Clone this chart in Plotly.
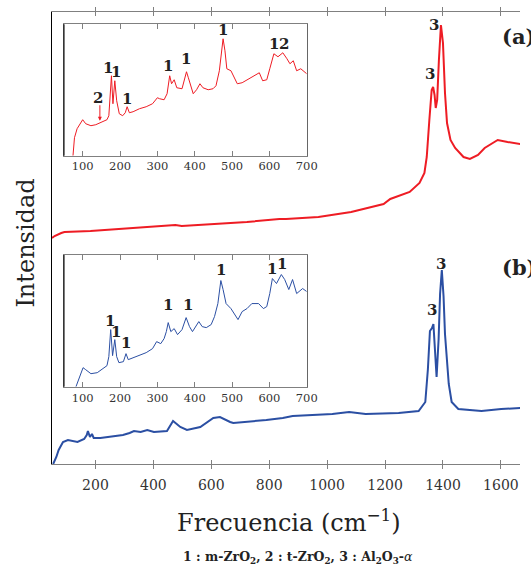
import plotly.graph_objects as go

# ---------------- data ----------------
# main spectra: Raman shift (cm^-1) and intensity (arbitrary units)
red_x = [50, 59, 82, 93, 183, 273, 386, 476, 498, 611, 723, 835, 858, 970, 1083,
         1195, 1218, 1285, 1319, 1336, 1344, 1353, 1361, 1366, 1371, 1375, 1380,
         1386, 1393, 1400, 1407, 1414, 1426, 1442, 1471, 1493, 1521, 1544, 1589,
         1623, 1656, 1668]
red_i = [226, 228, 231, 232, 233, 235, 237, 239, 238, 240, 242, 245, 245, 247, 252,
         260, 265, 272, 281, 291, 307, 344, 374, 377, 369, 356, 364,
         404, 439, 421, 371, 341, 324, 316, 307, 305, 309, 316, 324,
         322, 321, 320]

blue_x = [54, 65, 73, 88, 105, 138, 161, 170, 174, 181, 188, 194, 217, 251, 273, 295,
          318, 333, 356, 379, 402, 447, 468, 493, 516, 562, 607, 630, 665, 676, 790,
          847, 881, 961, 1018, 1076, 1133, 1247, 1316, 1339, 1348, 1355, 1362, 1367,
          1372, 1378, 1385, 1390, 1396, 1402, 1407, 1413, 1420, 1430, 1453, 1533,
          1601, 1668]
blue_i = [0, 7, 14, 22, 24, 22, 25, 29, 33, 27, 30, 26, 26, 27, 28, 29,
          31, 33, 32, 34, 32, 33, 43, 37, 34, 37, 46, 47, 42, 41, 44,
          46, 48, 49, 50, 52, 50, 51, 53, 62, 95, 133, 136, 140,
          112, 87, 125, 170, 194, 168, 130, 106, 80, 62, 55, 53,
          55, 56]

# inset (a)
ia_x = [74, 78, 85, 94, 100, 108, 122, 135, 146, 156, 165, 170, 174, 177, 181, 186,
        191, 198, 207, 214, 219, 225, 235, 252, 270, 287, 300, 306, 318, 326, 333,
        338, 345, 352, 366, 373, 378, 383, 390, 396, 405, 414, 422, 436, 449, 457,
        466, 472, 476, 481, 486, 497, 505, 514, 527, 549, 566, 573, 582, 593, 601,
        612, 623, 636, 647, 655, 664, 673, 684, 700]
ia_i = [0, 18, 27, 33, 36, 32, 30, 31, 33, 34, 36, 40, 58, 80, 52, 75,
        55, 42, 40, 43, 49, 43, 44, 47, 49, 52, 58, 57, 56, 62, 80,
        72, 76, 68, 67, 77, 84, 78, 68, 62, 66, 72, 68, 66, 67, 70,
        85, 105, 117, 105, 87, 85, 78, 72, 73, 78, 81, 83, 75, 76, 87,
        102, 99, 103, 97, 92, 95, 85, 87, 82]

# inset (b)
ib_x = [82, 87, 94, 101, 108, 122, 139, 156, 165, 170, 175, 180, 186, 191, 197,
        209, 216, 222, 235, 252, 270, 287, 298, 309, 318, 324, 329, 336, 345, 354,
        366, 377, 386, 394, 402, 411, 420, 431, 444, 453, 462, 467, 470, 476, 484,
        497, 507, 516, 527, 540, 553, 571, 584, 593, 601, 608, 619, 632, 641, 652,
        662, 673, 689, 700]
ib_i = [0, 5, 13, 19, 17, 13, 14, 18, 21, 30, 57, 31, 47, 30, 24,
        25, 33, 27, 29, 32, 34, 38, 45, 43, 48, 55, 64, 55, 58, 52,
        57, 69, 60, 55, 60, 65, 60, 59, 62, 70, 83, 98, 106, 97, 83,
        78, 72, 67, 75, 78, 83, 83, 78, 80, 93, 108, 103, 112, 107, 97,
        107, 93, 98, 95]

main_ticks = [200, 400, 600, 800, 1000, 1200, 1400, 1600]
inset_ticks = [100, 200, 300, 400, 500, 600, 700]

# peak labels: (x, intensity, text)
main_a_labels = [(1370, 439, "3"), (1356, 390, "3")]
main_b_labels = [(1393, 200, "3"), (1361, 154, "3")]
ia_labels = [(168, 88, "1"), (189, 84, "1"), (219, 57, "1"), (328, 90, "1"),
             (378, 97, "1"), (476, 126, "1"), (612, 112, "1"), (638, 112, "2"),
             (142, 58, "2")]
ib_labels = [(173, 66, "1"), (189, 55, "1"), (215, 44, "1"), (328, 82, "1"),
             (381, 82, "1"), (470, 117, "1"), (606, 118, "1"), (634, 123, "1")]

RED = "#ee1c24"
BLUE = "#2b4fa3"
SERIF = "DejaVu Serif"
GRAY = "#808080"

fig = go.Figure()
fig.add_trace(go.Scatter(x=red_x, y=red_i, mode="lines", line=dict(color=RED, width=2),
                         xaxis="x", yaxis="y", showlegend=False))
fig.add_trace(go.Scatter(x=blue_x, y=blue_i, mode="lines", line=dict(color=BLUE, width=2),
                         xaxis="x", yaxis="y", showlegend=False))
# helper to activate the overlay axis that draws inward ticks
fig.add_trace(go.Scatter(x=red_x[:1], y=red_i[:1], mode="lines", line=dict(width=0),
                         xaxis="x4", yaxis="y", showlegend=False, hoverinfo="skip"))
fig.add_trace(go.Scatter(x=ia_x, y=ia_i, mode="lines", line=dict(color=RED, width=1),
                         xaxis="x2", yaxis="y2", showlegend=False))
fig.add_trace(go.Scatter(x=ib_x, y=ib_i, mode="lines", line=dict(color=BLUE, width=1),
                         xaxis="x3", yaxis="y3", showlegend=False))

W, H = 531, 567
L, R, T, B = 52, 0, 12, 103
PW, PH = W - L - R, H - T - B

inset_common_x = dict(range=[50, 700], tickvals=inset_ticks, showline=True, linecolor=GRAY,
                      linewidth=1, mirror="ticks", ticks="inside", ticklen=5, tickcolor=GRAY,
                      tickfont=dict(family=SERIF, size=11.5, color="#333"),
                      showgrid=False, zeroline=False, fixedrange=True)
inset_common_y = dict(range=[0, 131.5], showline=True, linecolor="#666", linewidth=1,
                      mirror=True, showticklabels=False, ticks="", showgrid=False,
                      zeroline=False)

fig.update_layout(
    width=W, height=H,
    margin=dict(l=L, r=R, t=T, b=B),
    paper_bgcolor="white", plot_bgcolor="white",
    xaxis=dict(range=[50, 1666], tickvals=main_ticks, showline=True, linecolor=GRAY,
               linewidth=1, mirror="ticks", ticks="outside", ticklen=4, tickcolor=GRAY,
               tickfont=dict(family=SERIF, size=14, color="#333"), ticklabelstandoff=4,
               showgrid=False, zeroline=False),
    xaxis4=dict(range=[50, 1666], tickvals=main_ticks, overlaying="x", anchor="y",
                showline=False, mirror="ticks", ticks="inside", ticklen=4, tickcolor=GRAY,
                showticklabels=False, showgrid=False, zeroline=False),
    yaxis=dict(range=[0, 452], showline=True, linecolor="black", linewidth=1, mirror=False,
               showticklabels=False, ticks="", showgrid=False, zeroline=False),
    xaxis2=dict(domain=[0.0257, 0.5443], anchor="y2", **inset_common_x),
    yaxis2=dict(domain=[0.6821, 0.9728], anchor="x2", **inset_common_y),
    xaxis3=dict(domain=[0.0257, 0.5443], anchor="y3", **inset_common_x),
    yaxis3=dict(domain=[0.171, 0.4624], anchor="x3", **inset_common_y),
)

# black left edges of the insets
for xd, yd in (("x2", "y2"), ("x3", "y3")):
    fig.add_shape(type="line", xref=f"{xd} domain", yref=f"{yd} domain",
                  x0=0, x1=0, y0=0, y1=1, line=dict(color="black", width=1))

lab_font = dict(family=SERIF, size=15, color="#222")
for x, y, t in main_a_labels + main_b_labels:
    fig.add_annotation(x=x, y=y, xref="x", yref="y", text=f"<b>{t}</b>", showarrow=False,
                       font=lab_font)
for x, y, t in ia_labels:
    fig.add_annotation(x=x, y=y, xref="x2", yref="y2", text=f"<b>{t}</b>", showarrow=False,
                       font=lab_font)
for x, y, t in ib_labels:
    fig.add_annotation(x=x, y=y, xref="x3", yref="y3", text=f"<b>{t}</b>", showarrow=False,
                       font=lab_font)

# arrow pointing to the t-ZrO2 band in inset (a)
fig.add_annotation(x=146, y=35, xref="x2", yref="y2", ax=146, ay=52, axref="x2", ayref="y2",
                   text="", showarrow=True, arrowhead=2, arrowsize=0.8, arrowwidth=1,
                   arrowcolor=RED)

# panel tags (partly cut by the right edge, as in the original)
for y, t in ((428, "(a)"), (197, "(b)")):
    fig.add_annotation(x=1596, y=y, xref="x", yref="y", text=f"<b>{t}</b>", showarrow=False,
                       xanchor="left", yanchor="middle",
                       font=dict(family=SERIF, size=21, color="#222"))

# axis titles and caption
fig.add_annotation(x=(294.6 - L) / PW, y=(464 - 521) / PH, xref="paper", yref="paper",
                   xanchor="center", yanchor="middle",
                   text="Frecuencia (cm<sup>−1</sup>)", showarrow=False,
                   font=dict(family=SERIF, size=24, color="#222"))
fig.add_annotation(x=(25 - L) / PW, y=(464 - 243) / PH, xref="paper", yref="paper",
                   xanchor="center", yanchor="middle",
                   text="Intensidad", textangle=-90, showarrow=False,
                   font=dict(family=SERIF, size=24, color="#222"))
fig.add_annotation(x=(304 - L) / PW, y=(464 - 557.7) / PH, xref="paper", yref="paper",
                   xanchor="center", yanchor="middle",
                   text="<b>1 : m-ZrO<sub>2</sub>, 2 : t-ZrO<sub>2</sub>, 3 : Al<sub>2</sub>O<sub>3</sub>-</b><i>α</i>",
                   showarrow=False, font=dict(family=SERIF, size=12.5, color="#222"))

fig.write_html("out.html", config={"displayModeBar": False},
               post_script="document.body.style.margin='0px';document.body.style.padding='0px';")
